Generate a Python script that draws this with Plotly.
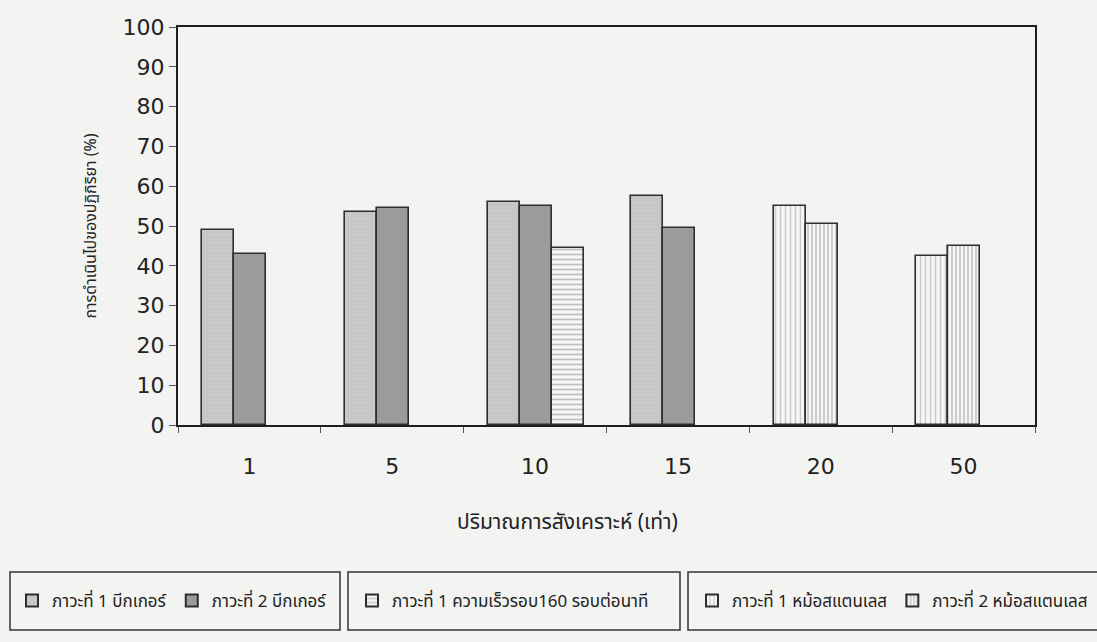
import plotly.graph_objects as go

# Synthesis scale (x categories)
categories = ["1", "5", "10", "15", "20", "50"]

# Reaction progress (%) per condition; None where the condition was not run
beaker_c1 = [49.0, 53.5, 56.0, 57.5, None, None]
beaker_c2 = [43.0, 54.5, 55.0, 49.5, None, None]
speed160_c1 = [None, None, 44.5, None, None, None]
stainless_c1 = [None, None, None, None, 55.0, 42.5]
stainless_c2 = [None, None, None, None, 50.5, 45.0]

names = [
    "ภาวะที่ 1 บีกเกอร์",
    "ภาวะที่ 2 บีกเกอร์",
    "ภาวะที่ 1 ความเร็วรอบ160 รอบต่อนาที",
    "ภาวะที่ 1 หม้อสแตนเลส",
    "ภาวะที่ 2 หม้อสแตนเลส",
]

W, H = 1097, 642
ML, MR, MT, MB = 178, 62, 27, 217
PW, PH = W - ML - MR, H - MT - MB

BAR_W = 0.224
SLOTS = [-0.33, -0.106, 0.118]
EDGE = "#2e2e2e"
BG = "#f3f3f1"
THAI_FONT = "Noto Sans Thai, Loma, Garuda, Noto Sans, sans-serif"
NUM_FONT = "DejaVu Sans, Verdana, sans-serif"


def px_to_paper_x(px):
    return (px - ML) / PW


def px_to_paper_y(py):
    return (H - MB - py) / PH


series = [
    dict(y=beaker_c1, slot=0, color="#c9c9c7", pattern=dict(shape=".", fgcolor="#b0b0ae", size=4, solidity=0.15), legend="legend"),
    dict(y=beaker_c2, slot=1, color="#9b9b99", pattern=dict(shape=""), legend="legend"),
    dict(y=speed160_c1, slot=2, color="#f6f6f4", pattern=dict(shape="-", fgcolor="#8a8a8a", bgcolor="#f6f6f4", size=5, solidity=0.35), legend="legend2"),
    dict(y=stainless_c1, slot=0, color="#f6f6f4", pattern=dict(shape="|", fgcolor="#a0a0a0", bgcolor="#f6f6f4", size=5, solidity=0.3), legend="legend3"),
    dict(y=stainless_c2, slot=1, color="#f6f6f4", pattern=dict(shape="|", fgcolor="#7e7e7e", bgcolor="#f6f6f4", size=4, solidity=0.35), legend="legend3"),
]

fig = go.Figure()
for name, s in zip(names, series):
    fig.add_trace(go.Bar(
        x=categories,
        y=s["y"],
        name=name,
        width=BAR_W,
        offset=SLOTS[s["slot"]],
        marker=dict(color=s["color"], pattern=s["pattern"], line=dict(color=EDGE, width=1.6)),
        legend=s["legend"],
    ))

legend_common = dict(
    orientation="h",
    xref="container",
    yref="container",
    yanchor="middle",
    y=1 - 601 / H,
    bgcolor="rgba(0,0,0,0)",
    borderwidth=0,
    font=dict(family=THAI_FONT, size=17, color="#222"),
    itemsizing="constant",
    itemwidth=30,
)

# Framed boxes around the three legend groups
legend_boxes = [(10, 340), (348, 680), (688, 1110)]
shapes = [
    dict(
        type="rect", xref="paper", yref="paper",
        x0=px_to_paper_x(a), x1=px_to_paper_x(b),
        y0=px_to_paper_y(630), y1=px_to_paper_y(572),
        line=dict(color="#333", width=1.5),
        fillcolor="rgba(0,0,0,0)",
    )
    for a, b in legend_boxes
]

fig.update_layout(
    width=W,
    height=H,
    margin=dict(l=ML, r=MR, t=MT, b=MB),
    paper_bgcolor=BG,
    plot_bgcolor=BG,
    barmode="overlay",
    bargap=0,
    shapes=shapes,
    legend=dict(legend_common, x=12 / W),
    legend2=dict(legend_common, x=352 / W),
    legend3=dict(legend_common, x=692 / W),
    annotations=[
        dict(
            text="ปริมาณการสังเคราะห์ (เท่า)",
            xref="paper", yref="paper",
            x=px_to_paper_x(567), y=px_to_paper_y(522),
            xanchor="center", yanchor="middle",
            showarrow=False,
            font=dict(family=THAI_FONT, size=21, color="#222"),
        )
    ],
    xaxis=dict(
        type="category",
        tickson="boundaries",
        ticks="outside",
        ticklen=6,
        tickcolor="#555",
        ticklabelstandoff=20,
        tickfont=dict(family=NUM_FONT, size=22, color="#222"),
        showline=True,
        linecolor="#1e1e1e",
        linewidth=2.2,
        mirror=True,
        showgrid=False,
    ),
    yaxis=dict(
        range=[0, 100],
        dtick=10,
        ticks="outside",
        ticklen=7,
        tickcolor="#555",
        tickfont=dict(family=NUM_FONT, size=22, color="#222"),
        showline=True,
        linecolor="#1e1e1e",
        linewidth=2.2,
        mirror=True,
        showgrid=False,
        zeroline=False,
        title=dict(
            text="การดำเนินไปของปฏิกิริยา (%)",
            font=dict(family=THAI_FONT, size=16, color="#222"),
            standoff=22,
        ),
    ),
)

fig.write_html("out.html")
